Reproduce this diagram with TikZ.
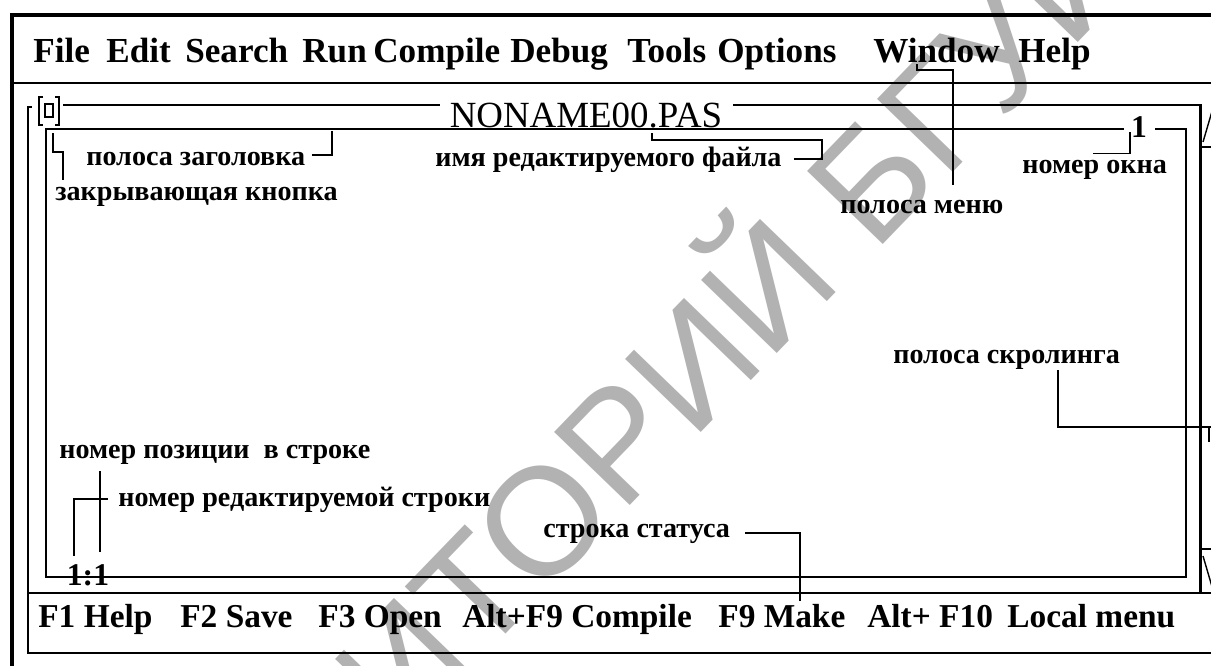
\documentclass[tikz,border=0pt]{standalone}
\usepackage{fontspec}
\setmainfont{Liberation Serif}
\newfontfamily\stampfont{Liberation Sans}
\usetikzlibrary{positioning,calc}

\begin{document}
\begin{tikzpicture}[x=0.02cm, y=-0.02cm,
    outerline/.style={line width=2.2pt},
    barline/.style={line width=1.7pt},
    innerline/.style={line width=0.8pt},
    leadline/.style={line width=0.7pt},
    menuitem/.style={anchor=base west, inner sep=0pt, font=\bfseries\fontsize{20}{24}\selectfont},
    keyitem/.style={anchor=base west, inner sep=0pt, font=\bfseries\fontsize{19}{23}\selectfont},
    note/.style={anchor=base west, inner sep=0pt, text height=8pt, text depth=0pt, font=\bfseries\fontsize{16}{19}\selectfont}]
    \useasboundingbox (0,0) rectangle (1211,666);
    \fill[white] (0,0) rectangle (1211,666);
    \clip (0,0) rectangle (1211,666);

    % stamp across the sheet
    \node[rotate=46, inner sep=0pt, text=black!30, font=\stampfont\fontsize{87}{90}\selectfont] (stamp) at (578,462) {РЕПОЗИТОРИЙ БГУИР};

    % screen frame and menu bar
    \draw[outerline] (12,690) -- (12,15) -- (1240,15);
    \draw[barline] (12,83) -- (1240,83);
    \node[menuitem] (mFile) at (33,62) {File};
    \node[menuitem] (mEdit) at (106,62) {Edit};
    \node[menuitem] (mSearch) at (185,62) {Search};
    \node[menuitem] (mRun) at (302,62) {Run};
    \node[menuitem] (mCompile) at (373,62) {Compile};
    \node[menuitem] (mDebug) at (510,62) {Debug};
    \node[menuitem] (mTools) at (627,62) {Tools};
    \node[menuitem] (mOptions) at (717,62) {Options};
    \node[menuitem] (mWindow) at (873,62) {Window};
    \node[menuitem] (mHelp) at (1018,62) {Help};

    % edit window
    \node[anchor=base, inner sep=0pt, font=\fontsize{21}{24}\selectfont] (fname) at (586,127) {NONAME00.PAS};
    \draw[barline] (63,105) -- (440,105);
    \draw[barline] (733,105) -- (1200,105) -- (1200,593);
    \draw[barline] (32,107) -- (28,107) -- (28,593);
    \draw[innerline] (1124,129) -| (46,577) -| (1186,129) -- (1155,129);
    \node[anchor=base, inner sep=0pt, font=\bfseries\fontsize{18}{20}\selectfont] (winNo) at (1139,137) {1};
    \node[anchor=base, inner sep=0pt, font=\bfseries\fontsize{18}{20}\selectfont] (pos) at (88,585) {1:1};

    % close box
    \draw[innerline] (43,97) -- (39,97) -- (39,125) -- (43,125);
    \draw[innerline] (55,97) -- (59,97) -- (59,125) -- (55,125);
    \draw[line width=1.2pt] (45,104) rectangle (53,117);

    % scroll bar
    \draw[innerline] (1200,147) -- (1215,147);
    \draw[innerline] (1200,549) -- (1215,549);
    \draw[innerline] (1203,142) -- (1213,108);
    \draw[innerline] (1203,556) -- (1213,590);
    \draw[leadline] (1209,427) -- (1209,442);

    % status line
    \draw[barline] (28,593) rectangle (1240,653);
    \node[keyitem] (kHelp) at (38,627) {F1 Help};
    \node[keyitem] (kSave) at (180,627) {F2 Save};
    \node[keyitem] (kOpen) at (318,627) {F3 Open};
    \node[keyitem] (kCompile) at (462,627) {Alt+F9 Compile};
    \node[keyitem] (kMake) at (718,627) {F9 Make};
    \node[keyitem] (kLocal) at (867,627) {Alt+ F10};
    \node[keyitem] (kMenu) at (1007,627) {Local menu};

    % captions
    \node[note] (lblClose) at (55,200) {закрывающая кнопка};
    \node[note] (lblHead) at (86,165) {полоса заголовка};
    \node[note] (lblFile) at (435,166) {имя редактируемого файла};
    \node[note] (lblMenu) at (840,213) {полоса меню};
    \node[note] (lblWinNo) at (1022,173) {номер окна};
    \node[note] (lblScroll) at (893,363) {полоса скролинга};
    \node[note] (lblCol) at (59,458) {номер позиции\ \ в строке};
    \node[note] (lblRow) at (118,506) {номер редактируемой строки};
    \node[note] (lblStatus) at (543,537) {строка статуса};

    \coordinate (closeTip) at (53,133);
    \coordinate (headTip) at (332,131);
    \coordinate (fileTip) at (652,133);
    \coordinate (menuTip) at ($(mWindow.base west)+(44,2)$);
    \coordinate (winTip) at (1130,132);
    \coordinate (scrollTip) at (1215,427);
    \coordinate (rowTip) at (74,556);
    \coordinate (colTip) at (100,552);
    \coordinate (statusTip) at ($(kMake.base west)+(82,-26)$);

    % leaders
    \draw[leadline] (closeTip) -- ++(0,19) -| ($(lblClose.north west)+(8,-6)$);
    \draw[leadline] ($(lblHead.east)+(6,-3)$) -| (headTip);
    \draw[leadline] ($(lblFile.east)+(12,0)$) -| ($(fileTip)+(170,7)$) -| (fileTip);
    \draw[leadline] (menuTip) -- ++(0,6) -| ($(lblMenu.north west)+(113,-14)$);
    \draw[leadline] ($(lblWinNo.north west)+(71,-5)$) -| (winTip);
    \draw[leadline] ($(lblScroll.south west)+(165,7)$) |- (scrollTip);
    \draw[leadline] (colTip) -- ($(lblCol.south west)+(41,13)$);
    \draw[leadline] ($(lblRow.west)+(-10,0)$) -| (rowTip);
    \draw[leadline] ($(lblStatus.east)+(15,3)$) -| (statusTip);
\end{tikzpicture}
\end{document}
